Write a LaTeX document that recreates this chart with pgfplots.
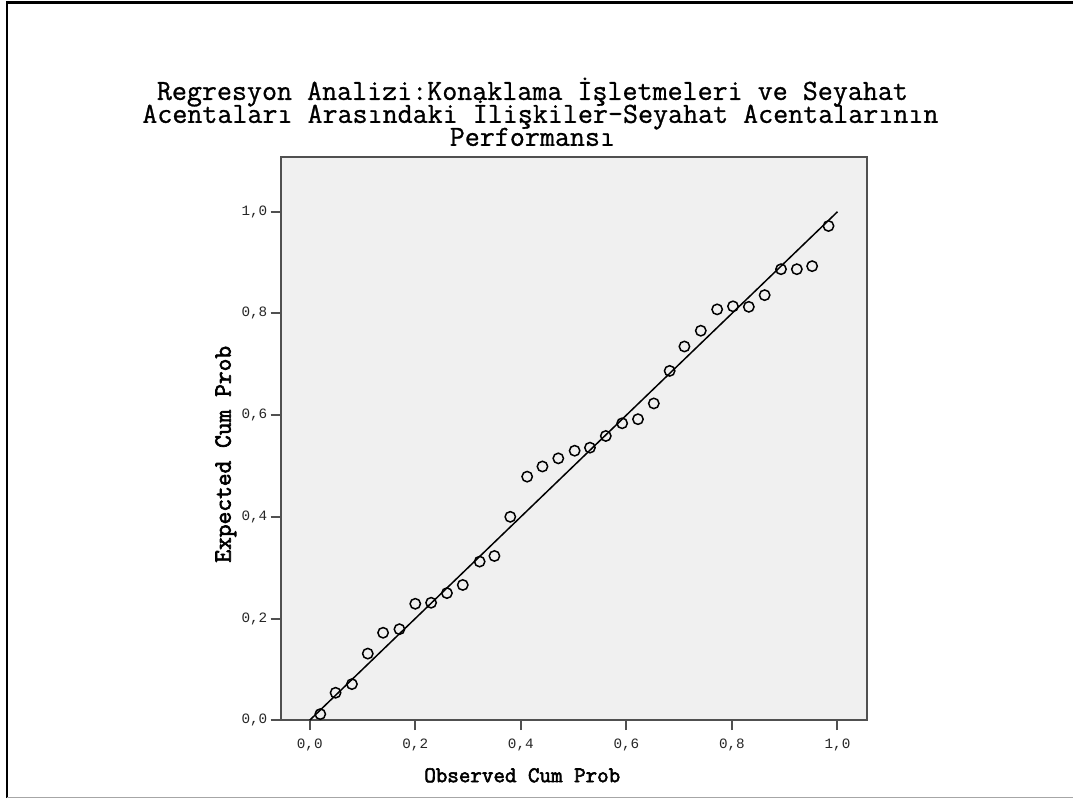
\documentclass[border=0pt]{standalone}
\usepackage{pgfplots}
\pgfplotsset{compat=1.18}
\usepackage{fontspec}
\setmainfont{Liberation Mono}
\newfontfamily\lmtitle{Latin Modern Mono}[FakeBold=0.9]
\newfontfamily\lmbold{Latin Modern Mono}[FakeBold=2.6]
\definecolor{plotbg}{HTML}{F0F0F0}
\definecolor{axgray}{HTML}{505050}
\begin{document}
\begin{tikzpicture}[x=0.5pt,y=0.5pt]
\path (0,0) rectangle (1074,799);
\draw[black, line width=1.2pt] (7,0) -- (7,796.5) -- (1074,796.5);
\draw[gray!70, line width=0.8pt] (7,0.8) -- (1074,0.8);
\node[font=\lmtitle\fontsize{14.6pt}{11.5pt}\selectfont, anchor=base, inner sep=0pt] at (533,699) {Regresyon Analizi:Konaklama İşletmeleri ve Seyahat};
\node[font=\lmtitle\fontsize{14.6pt}{11.5pt}\selectfont, anchor=base, inner sep=0pt] at (541,676) {Acentaları Arasındaki İlişkiler-Seyahat Acentalarının};
\node[font=\lmtitle\fontsize{14.6pt}{11.5pt}\selectfont, anchor=base, inner sep=0pt] at (533,653) {Performansı};
\begin{axis}[
  at={(140.5pt,39pt)}, anchor=south west,
  scale only axis, width=293.5pt, height=282pt,
  xmin=-0.055, xmax=1.056, ymin=0, ymax=1.108,
  axis background/.style={fill=plotbg},
  axis line style={axgray, line width=1pt},
  tick style={axgray, line width=1pt},
  tick align=outside, major tick length=5pt,
  xtick={0,0.2,0.4,0.6,0.8,1.0}, ytick={0,0.2,0.4,0.6,0.8,1.0},
  xtick pos=bottom, ytick pos=left,
  /pgf/number format/assume math mode=true,
  /pgf/number format/.cd, use comma, fixed, fixed zerofill, precision=1,
  /pgfplots/.cd,
  ticklabel style={font=\fontsize{7.15pt}{8pt}\selectfont, text=black!85},
  yticklabel style={inner sep=1.5pt},
  xticklabel style={inner sep=1pt, yshift=-3pt},
  xlabel={Observed Cum Prob},
  ylabel={Expected Cum Prob},
  xlabel style={at={(axis description cs:0.412,-0.11)}, anchor=base, font=\lmbold\fontsize{11.2pt}{12pt}\selectfont},
  ylabel style={at={(axis description cs:-0.0937,0.472)}, anchor=center, font=\lmbold\fontsize{12.4pt}{13pt}\selectfont},
]
\addplot[black, line width=0.75pt, no marks] coordinates {(0,0) (1,1)};
\addplot[only marks, mark=o, mark size=2.6pt, black, mark options={line width=0.75pt}] coordinates {
(0.020,0.012) (0.049,0.054) (0.080,0.071) (0.110,0.131) (0.139,0.172)
(0.170,0.179) (0.200,0.229) (0.230,0.231) (0.260,0.250) (0.290,0.266)
(0.322,0.312) (0.350,0.323) (0.380,0.400) (0.412,0.479) (0.441,0.499)
(0.471,0.515) (0.502,0.530) (0.531,0.536) (0.561,0.559) (0.592,0.584)
(0.622,0.592) (0.652,0.623) (0.682,0.687) (0.710,0.735) (0.741,0.766)
(0.772,0.808) (0.802,0.814) (0.832,0.813) (0.862,0.836) (0.893,0.887)
(0.923,0.887) (0.952,0.893) (0.983,0.972)
};
\end{axis}
\end{tikzpicture}
\end{document}
